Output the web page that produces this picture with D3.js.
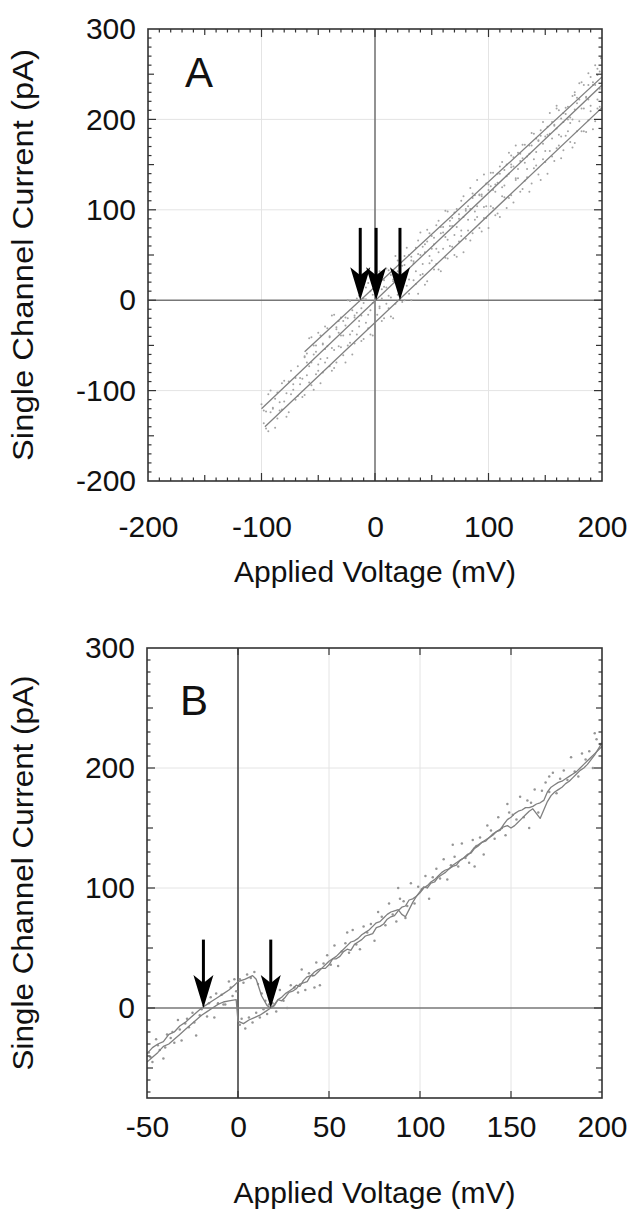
<!DOCTYPE html>
<html>
<head>
<meta charset="utf-8">
<script src="https://cdn.jsdelivr.net/npm/d3@7"></script>
<style>
  body { margin: 0; background: #fff; }
  text { font-family: "Liberation Sans", Arial, Helvetica, sans-serif; fill: #111; }
</style>
</head>
<body>
<div id="chart-holder"></div>
<script>
//****DATA****
// tick labels
const xTicksA = [-200, -100, 0, 100, 200];
const yTicksA = [-200, -100, 0, 100, 200, 300];
const xTicksB = [-50, 0, 50, 100, 150, 200];
const yTicksB = [0, 100, 200, 300];

// panel A: linear fits (end points, mV / pA)
const fitA1 = [[-62, -57], [200, 247]];
const fitA2 = [[-100, -120], [200, 238]];
const fitA3 = [[-97, -140], [200, 213]];
// reversal potentials marked by arrows
const arrowsA = [-13, 1, 22];
const arrowsB = [-19, 18];

// panel A: measured points around each fit
const ptsA1 = [[-62,-63],[-58,-42],[-54,-50],[-50,-36],[-46,-49],[-42,-31],[-38,-17],[-34,-32],[-30,-19],[-26,-19],
  [-22,-1],[-18,-19],[-14,5],[-10,2],[-6,19],[-2,6],[2,19],[6,12],[10,35],[14,28],[18,49],[22,32],[26,49],[30,50],
  [34,43],[38,66],[42,59],[46,78],[50,71],[54,83],[58,74],[62,99],[66,88],[70,97],[74,90],[78,115],[82,104],[86,118],
  [90,133],[94,117],[98,129],[102,141],[106,128],[110,148],[114,144],[118,163],[122,148],[126,163],[130,172],[134,159],
  [138,185],[142,179],[146,188],[150,181],[154,207],[158,193],[162,210],[166,197],[170,214],[174,226],[178,218],
  [182,241],[186,224],[190,247],[194,260],[198,253],[199,268],[196,249],[188,238],[176,230],[160,212],[120,160],
  [-60,-59],[-56,-41],[-52,-57],[-48,-39],[-44,-29],[-40,-40],[-36,-16],[-32,-23],[-28,-23],[-24,0],[-20,-11],[-16,2],
  [-12,-9],[-8,14],[-4,10],[0,8],[4,32],[8,22],[12,33],[16,23],[20,44],[24,38],[28,58],[32,44],[36,58],[40,75],[44,62],
  [48,74],[52,62],[56,88],[60,81],[64,98],[68,82],[72,101],[76,110],[80,99],[84,124],[88,116],[92,116],[96,139],[100,128],
  [104,141],[108,130],[112,153],[116,150],[120,147],[124,171],[128,162],[132,172],[136,162],[140,184],[144,177],[148,197],
  [152,183],[156,197],[160,215],[164,201],[168,213],[172,202],[176,227],[180,240],[184,238],[188,251],[192,241],[196,256]];
const ptsA2 = [[-100,-115],[-96,-123],[-92,-100],[-88,-109],[-84,-113],[-80,-89],[-76,-90],[-72,-93],[-68,-73],[-64,-87],
  [-60,-69],[-56,-69],[-52,-50],[-48,-65],[-44,-54],[-40,-41],[-36,-55],[-32,-36],[-28,-39],[-24,-20],[-20,-34],[-16,-14],
  [-12,-17],[-8,1],[-4,-11],[0,0],[4,-9],[8,15],[12,5],[16,21],[20,32],[24,21],[28,31],[32,48],[36,32],[40,50],[44,53],
  [48,49],[52,69],[56,53],[60,75],[64,67],[68,91],[72,81],[76,77],[80,101],[84,101],[88,98],[92,117],[96,103],[100,122],
  [104,122],[108,140],[112,125],[116,137],[120,150],[124,135],[128,154],[132,152],[136,171],[140,156],[144,176],[148,173],
  [152,192],[156,179],[160,190],[164,181],[168,206],[172,196],[176,211],[180,222],[184,212],[188,222],[192,238],[196,222],[200,241],
  [-98,-122],[-94,-104],[-90,-120],[-86,-102],[-82,-92],[-78,-103],[-74,-78],[-70,-86],[-66,-86],[-62,-62],[-58,-73],
  [-54,-60],[-50,-71],[-46,-48],[-42,-51],[-38,-53],[-34,-30],[-30,-39],[-26,-28],[-22,-38],[-18,-17],[-14,-23],[-10,-3],
  [-6,-16],[-2,-3],[2,15],[6,2],[10,14],[14,3],[18,28],[22,21],[26,39],[30,23],[34,41],[38,51],[42,40],[46,65],[50,57],
  [54,57],[58,81],[62,70],[66,82],[70,72],[74,95],[78,92],[82,89],[86,113],[90,104],[94,115],[98,104],[102,126],[106,120],
  [110,140],[114,127],[118,140],[122,158],[126,145],[130,157],[134,145],[138,171],[142,164],[146,182],[150,165],[154,184],
  [158,194],[162,183],[166,207],[170,200],[174,200],[178,224],[182,212],[186,225],[190,215],[194,238],[198,234]];
const ptsA3 = [[-98,-136],[-94,-145],[-90,-119],[-86,-131],[-82,-121],[-78,-129],[-74,-104],[-70,-110],[-66,-93],[-62,-105],
  [-58,-91],[-54,-99],[-50,-78],[-46,-80],[-42,-64],[-38,-78],[-34,-69],[-30,-52],[-26,-69],[-22,-47],[-18,-48],[-14,-29],
  [-10,-43],[-6,-31],[-2,-39],[2,-16],[6,-23],[10,-4],[14,-18],[18,-4],[22,12],[26,0],[30,7],[34,22],[38,7],[42,29],[46,21],
  [50,44],[54,40],[58,32],[62,47],[66,60],[70,50],[74,65],[78,53],[82,77],[86,74],[90,92],[94,76],[98,91],[102,104],[106,94],
  [110,92],[114,114],[118,113],[122,108],[126,135],[130,123],[134,136],[138,129],[142,149],[146,133],[150,153],[154,165],
  [158,154],[162,171],[166,166],[170,187],[174,169],[178,187],[182,187],[186,186],[190,209],[194,198],[198,214],
  [-96,-142],[-92,-124],[-88,-141],[-84,-122],[-80,-112],[-76,-124],[-72,-99],[-68,-106],[-64,-107],[-60,-83],[-56,-94],
  [-52,-82],[-48,-92],[-44,-69],[-40,-73],[-36,-75],[-32,-51],[-28,-61],[-24,-50],[-20,-60],[-16,-38],[-12,-45],[-8,-25],
  [-4,-38],[0,-25],[4,-7],[8,-20],[12,-9],[16,-20],[20,6],[24,-2],[28,16],[32,0],[36,18],[40,28],[44,17],[48,41],[52,34],
  [56,34],[60,57],[64,46],[68,59],[72,48],[76,71],[80,68],[84,66],[88,89],[92,80],[96,91],[100,80],[104,102],[108,96],
  [112,115],[116,102],[120,116],[124,133],[128,120],[132,132],[136,120],[140,146],[144,139],[148,156],[152,140],[156,159],
  [160,168],[164,157],[168,182],[172,175],[176,174],[180,198],[184,187],[188,199],[192,189],[196,212]];

// panel B: two voltage ramps (connected traces) and their sample points
const traceB1 = [[-50,-38],[-47,-33],[-44,-30],[-41,-28],[-38,-22],[-35,-20],[-32,-15],[-29,-12],[-26,-8],[-23,-4],[-20,0],
  [-17,3],[-14,6],[-11,9],[-8,12],[-5,15],[-2,19],[0,22],[4,24],[8,27],[10,24],[13,10],[16,2],[18,0],[20,3],[22,7],[24,6],
  [26,9],[28,13],[30,14],[32,16],[34,20],[36,21],[38,22],[40,27],[42,27],[44,30],[46,33],[48,33],[50,36],[52,41],[54,41],
  [56,43],[58,47],[60,49],[62,48],[64,53],[66,55],[68,57],[70,60],[72,61],[74,62],[76,67],[78,68],[80,70],[82,74],[84,76],
  [86,77],[88,81],[90,84],[92,85],[94,90],[96,91],[98,93],[100,97],[102,101],[104,100],[106,104],[108,105],[110,109],
  [112,111],[114,113],[116,116],[118,118],[120,119],[122,123],[124,125],[126,128],[128,129],[130,133],[132,135],[134,138],
  [136,139],[138,142],[140,144],[142,147],[144,148],[146,153],[148,157],[150,159],[152,162],[154,164],[156,165],[158,167],
  [160,167],[162,168],[164,170],[166,171],[168,173],[170,180],[172,184],[174,186],[176,188],[178,189],[180,191],[182,193],
  [184,195],[186,197],[188,200],[190,203],[192,206],[194,209],[196,212],[198,215],[200,218]];
const traceB2 = [[-50,-45],[-47,-41],[-44,-37],[-41,-32],[-38,-30],[-35,-26],[-32,-22],[-29,-18],[-26,-14],[-23,-10],[-20,-6],
  [-17,-3],[-14,0],[-11,3],[-8,5],[-5,6],[-1,7],[0,-11],[3,-13],[6,-10],[9,-8],[12,-6],[15,-3],[18,0],[20,2],[22,7],[24,9],
  [26,12],[28,14],[30,16],[32,19],[34,18],[36,23],[38,26],[40,27],[42,30],[44,32],[46,33],[48,36],[50,39],[52,41],[54,43],
  [56,46],[58,49],[60,52],[62,55],[64,56],[66,58],[68,61],[70,63],[72,65],[74,68],[76,71],[78,72],[80,75],[82,78],[84,80],
  [86,81],[88,82],[90,78],[92,76],[94,82],[96,88],[98,93],[100,96],[102,100],[104,102],[106,105],[108,107],[110,110],
  [112,113],[114,115],[116,116],[118,119],[120,121],[122,123],[124,125],[126,127],[128,130],[130,134],[132,136],[134,138],
  [136,140],[138,142],[140,145],[142,147],[144,149],[146,151],[148,152],[150,150],[152,152],[154,155],[156,158],[158,161],
  [160,164],[162,166],[164,162],[166,158],[168,165],[170,172],[172,177],[174,180],[176,182],[178,184],[180,187],[182,189],
  [184,192],[186,195],[188,198],[190,200],[192,203],[194,207],[196,211],[198,216],[200,221]];
const ptsB = [[-49,-37],[-47,-45],[-45,-26],[-43,-35],[-41,-42],[-39,-22],[-37,-25],[-35,-29],[-33,-10],[-31,-27],[-29,-13],
  [-27,-16],[-25,-4],[-23,-23],[-21,-6],[-19,2],[-17,-7],[-15,9],[-13,-8],[-11,4],[-9,11],[-7,3],[-5,22],[-3,10],
  [-48,-41],[-44,-31],[-40,-33],[-36,-20],[-32,-18],[-28,-9],[-24,-12],[-20,-1],[-16,4],[-12,12],[-8,3],[-4,17],[-2,24],[-1,14],
  [1,24],[3,21],[5,28],[7,25],[9,30],[11,20],[13,12],[15,6],
  [1,-14],[2,-9],[4,-17],[6,-8],[8,-12],[10,-4],[12,-8],[14,-1],[16,-5],[17,3],
  [19,4],[21,-3],[23,15],[25,6],[27,0],[29,19],[31,17],[33,13],[35,32],[37,15],[39,29],[41,27],[43,38],[45,19],[47,37],
  [49,44],[51,36],[53,52],[55,35],[57,47],[59,54],[61,46],[63,65],[65,53],[67,49],[69,68],[71,63],[73,70],[75,56],[77,80],
  [79,76],[81,69],[83,87],[85,78],[87,72],[89,91],[91,89],[93,85],[95,104],[97,87],[99,101],[101,99],[103,110],[105,91],
  [107,109],[109,116],[111,108],[113,124],[115,107],[117,119],[119,126],[121,118],[123,137],[125,125],[127,121],[129,140],
  [131,135],[133,142],[135,128],[137,152],[139,148],[141,141],[143,159],[145,150],[147,144],[149,163],[151,161],[153,157],
  [155,176],[157,159],[159,173],[161,171],[163,182],[165,163],[167,181],[169,188],[171,180],[173,196],[175,179],[177,191],
  [179,198],[181,190],[183,209],[185,197],[187,193],[189,212],[191,207],[193,214],[195,200],[197,224],[199,220],
  [60,63],[88,100],[118,136],[148,170],[171,193],[196,229],[42,17],[92,75],[130,118],[160,150]];

//****CREATE THE SVG CANVAS****
const width = 634;
const height = 1212;
const svg = d3.select('#chart-holder')
              .append('svg')
              .attr('width', width)
              .attr('height', height);

// tick length: long at every 100, medium at 50, short otherwise
function tickLen(v) {
    if (v % 100 === 0) return 8;
    if (v % 50 === 0) return 6;
    return 3.5;
}

function drawPanel(p) {
    const w = p.right - p.left;
    const h = p.bottom - p.top;
    const xScale = d3.scaleLinear().domain(p.xDomain).range([0, w]);
    const yScale = d3.scaleLinear().domain(p.yDomain).range([h, 0]);

    const g = svg.append('g').attr('transform', `translate(${p.left}, ${p.top})`);

    // light grid at the labelled values
    g.append('g').selectAll('line')
        .data(p.xTicks.filter(d => d !== 0 && d !== p.xDomain[0] && d !== p.xDomain[1]))
        .join('line')
        .attr('x1', d => xScale(d)).attr('x2', d => xScale(d))
        .attr('y1', 0).attr('y2', h)
        .style('stroke', '#e4e4e4').style('stroke-width', 1);
    g.append('g').selectAll('line')
        .data(p.yTicks.filter(d => d !== 0 && d !== p.yDomain[0] && d !== p.yDomain[1]))
        .join('line')
        .attr('x1', 0).attr('x2', w)
        .attr('y1', d => yScale(d)).attr('y2', d => yScale(d))
        .style('stroke', '#e4e4e4').style('stroke-width', 1);

    // zero lines
    g.append('line')
        .attr('x1', xScale(0)).attr('x2', xScale(0)).attr('y1', 0).attr('y2', h)
        .style('stroke', p.zeroColor).style('stroke-width', 1.6);
    g.append('line')
        .attr('x1', 0).attr('x2', w).attr('y1', yScale(0)).attr('y2', yScale(0))
        .style('stroke', '#777').style('stroke-width', 1.6);

    // points
    const clipId = 'clip-' + p.name;
    g.append('clipPath').attr('id', clipId)
        .append('rect').attr('width', w).attr('height', h);
    const plot = g.append('g').attr('clip-path', `url(#${clipId})`);

    p.points.forEach(set => {
        plot.append('g').selectAll('circle')
            .data(set)
            .join('circle')
            .attr('cx', d => xScale(d[0]))
            .attr('cy', d => yScale(d[1]))
            .attr('r', p.dotR)
            .style('fill', p.dotColor);
    });

    const line = d3.line().x(d => xScale(d[0])).y(d => yScale(d[1]));
    p.lines.forEach(l => {
        plot.append('path')
            .datum(l)
            .attr('d', line)
            .style('fill', 'none')
            .style('stroke', '#808080')
            .style('stroke-width', 1.3)
            .style('stroke-linejoin', 'round');
    });

    // arrows pointing at the reversal potentials
    p.arrows.forEach(v => {
        const tx = xScale(v);
        const ty = yScale(0);
        const tail = yScale(p.arrowTail);
        g.append('line')
            .attr('x1', tx).attr('x2', tx)
            .attr('y1', tail).attr('y2', ty - 22)
            .style('stroke', '#000').style('stroke-width', 3);
        g.append('path')
            .attr('d', `M${tx},${ty} L${tx - 10},${ty - 33} L${tx},${ty - 25} L${tx + 10},${ty - 33} Z`)
            .style('fill', '#000');
    });

    // ticks on all four sides, pointing inwards
    const xt = g.append('g');
    xt.selectAll('line.bot').data(p.xMinor).join('line').attr('class', 'bot')
        .attr('x1', d => xScale(d)).attr('x2', d => xScale(d))
        .attr('y1', h).attr('y2', d => h - p.xLen(d));
    xt.selectAll('line.top').data(p.xMinor).join('line').attr('class', 'top')
        .attr('x1', d => xScale(d)).attr('x2', d => xScale(d))
        .attr('y1', 0).attr('y2', d => p.xLen(d));
    const yt = g.append('g');
    yt.selectAll('line.lft').data(p.yMinor).join('line').attr('class', 'lft')
        .attr('y1', d => yScale(d)).attr('y2', d => yScale(d))
        .attr('x1', 0).attr('x2', d => tickLen(d));
    yt.selectAll('line.rgt').data(p.yMinor).join('line').attr('class', 'rgt')
        .attr('y1', d => yScale(d)).attr('y2', d => yScale(d))
        .attr('x1', w).attr('x2', d => w - tickLen(d));
    g.selectAll('line.bot, line.top, line.lft, line.rgt')
        .style('stroke', '#333').style('stroke-width', 1.2);

    // frame
    g.append('rect')
        .attr('width', w).attr('height', h)
        .style('fill', 'none').style('stroke', '#333').style('stroke-width', 1.6);

    // tick labels
    const xAxis = g.append('g')
        .attr('transform', `translate(0, ${h})`)
        .call(d3.axisBottom(xScale).tickValues(p.xTicks).tickSize(0).tickPadding(p.xPad));
    const yAxis = g.append('g')
        .call(d3.axisLeft(yScale).tickValues(p.yTicks).tickSize(0).tickPadding(12));
    [xAxis, yAxis].forEach(a => {
        a.select('.domain').remove();
        a.selectAll('text')
            .style('font-size', '30px')
            .style('font-family', '"Liberation Sans", Arial, sans-serif')
            .attr('fill', '#111')
            .text(d => String(d));   // plain hyphen for negatives, like the original
    });

    // axis titles
    g.append('text')
        .attr('x', w / 2)
        .attr('y', h + p.titleGap)
        .attr('text-anchor', 'middle')
        .style('font-size', '30px')
        .text('Applied Voltage (mV)');
    g.append('text')
        .attr('transform', 'rotate(-90)')
        .attr('x', -h / 2)
        .attr('y', -p.left + 33)
        .attr('text-anchor', 'middle')
        .attr('textLength', p.yTitleLen)
        .attr('lengthAdjust', 'spacingAndGlyphs')
        .style('font-size', '29px')
        .text('Single Channel Current (pA)');

    // panel letter
    g.append('text')
        .attr('x', p.letterX)
        .attr('y', p.letterY)
        .style('font-size', '42px')
        .text(p.name);
}

drawPanel({
    name: 'A',
    left: 148, right: 602, top: 29, bottom: 481,
    xDomain: [-200, 200], yDomain: [-200, 300],
    xTicks: xTicksA, yTicks: yTicksA,
    xMinor: d3.range(-190, 200, 10), yMinor: d3.range(-190, 300, 10),
    xLen: tickLen,
    xPad: 35, titleGap: 101,
    zeroColor: '#777',
    points: [ptsA1, ptsA2, ptsA3],
    dotR: 1.0, dotColor: '#a4a4a4',
    lines: [fitA1, fitA2, fitA3],
    arrows: arrowsA, arrowTail: 80,
    letterX: 37, letterY: 58,
    yTitleLen: 412
});

drawPanel({
    name: 'B',
    left: 147, right: 602, top: 648, bottom: 1098,
    xDomain: [-50, 200], yDomain: [-75, 300],
    xTicks: xTicksB, yTicks: yTicksB,
    xMinor: d3.range(0, 200, 50), yMinor: d3.range(-70, 300, 10),
    xLen: () => 7,
    xPad: 18, titleGap: 105,
    zeroColor: '#444',
    points: [ptsB],
    dotR: 1.25, dotColor: '#959595',
    lines: [traceB1, traceB2],
    arrows: arrowsB, arrowTail: 57,
    letterX: 33, letterY: 67,
    yTitleLen: 395
});
</script>
</body>
</html>
